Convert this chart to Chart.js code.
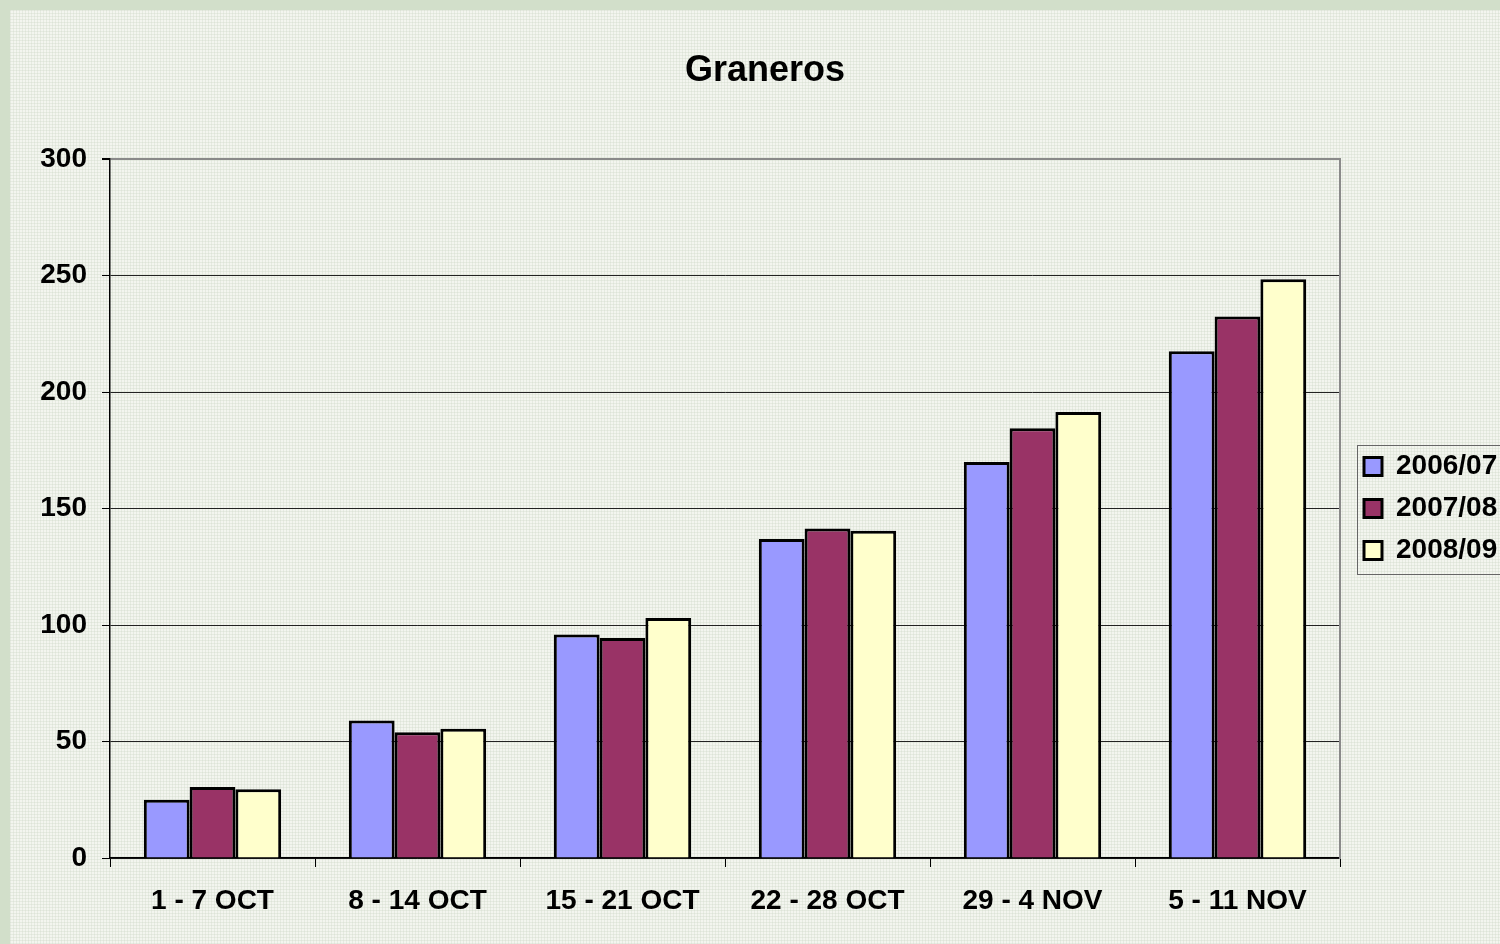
<!DOCTYPE html>
<html>
<head>
<meta charset="utf-8">
<script src="https://cdn.jsdelivr.net/npm/chart.js@4"></script>
<style>
  html, body { margin: 0; padding: 0; }
  body {
    width: 1500px; height: 944px; overflow: hidden; position: relative;
    background: #d2dfca;
  }
  #panel {
    position: absolute; left: 10px; top: 10px; width: 1490px; height: 934px;
    background-color: #f3f5ef;
    background-image:
      repeating-linear-gradient(0deg, rgba(205,215,198,0.35) 0 1px, transparent 1px 3px),
      repeating-linear-gradient(90deg, rgba(205,215,198,0.35) 0 1px, transparent 1px 3px);
  }
  #wrap { position: absolute; left: 0; top: 0; width: 1500px; height: 944px; }
</style>
</head>
<body>
<div id="panel"></div>
<div id="wrap"><canvas id="granerosChart" width="1500" height="944"></canvas></div>
<script>
const categories = ['1 - 7 OCT', '8 - 14 OCT', '15 - 21 OCT', '22 - 28 OCT', '29 - 4 NOV', '5 - 11 NOV'];
const seasons = ['2006/07', '2007/08', '2008/09'];
const values0607 = [25, 59, 96, 137, 170, 217.5];
const values0708 = [30.5, 54, 94.5, 141.5, 184.5, 232.5];
const values0809 = [29.5, 55.5, 103, 140.5, 191.5, 248.5];
const yTicks = [0, 50, 100, 150, 200, 250, 300];

const fontFamily = 'Arial, "Liberation Sans", sans-serif';

// box round the legend (Chart.js draws none)
const legendFrame = {
    id: 'legendFrame',
    afterDraw(chart) {
        const lg = chart.legend;
        if (!lg || !lg.legendHitBoxes || !lg.legendHitBoxes.length) return;
        const first = lg.legendHitBoxes[0];
        const last = lg.legendHitBoxes[lg.legendHitBoxes.length - 1];
        const ctx = chart.ctx;
        const top = Math.round(first.top - 8) + 0.5;
        const bottom = Math.round(last.top + last.height + 9) + 0.5;
        const left = 1357.5;
        ctx.save();
        ctx.strokeStyle = '#666';
        ctx.lineWidth = 1;
        ctx.strokeRect(left, top, 1510 - left, bottom - top);
        ctx.restore();
    }
};

const ctx = document.getElementById('granerosChart').getContext('2d');
new Chart(ctx, {
    type: 'bar',
    data: {
        labels: categories,
        datasets: [
            { label: seasons[0], data: values0607, backgroundColor: '#9999FF', borderColor: '#000', borderWidth: 3, yAxisID: 'y' },
            { label: seasons[1], data: values0708, backgroundColor: '#993366', borderColor: '#000', borderWidth: 3, yAxisID: 'y' },
            { label: seasons[2], data: values0809, backgroundColor: '#FFFFCC', borderColor: '#000', borderWidth: 3, yAxisID: 'y' }
        ]
    },
    options: {
        responsive: false,
        animation: false,
        layout: { padding: { left: 30, right: 0, top: 0, bottom: 0 } },
        datasets: { bar: { categoryPercentage: 0.67, barPercentage: 1.0, borderSkipped: 'start' } },
        plugins: {
            title: {
                display: true,
                text: 'Graneros',
                color: '#000',
                font: { family: fontFamily, size: 36, weight: 'bold' },
                padding: { top: 49, bottom: 67 }
            },
            legend: {
                position: 'right',
                fullSize: false,
                maxWidth: 150,
                labels: {
                    color: '#000',
                    font: { family: fontFamily, size: 28, weight: 'bold' },
                    boxWidth: 18,
                    boxHeight: 18,
                    padding: 14
                }
            },
            tooltip: { enabled: false }
        },
        scales: {
            x: {
                afterFit: s => { s.height = 86; },
                grid: { drawOnChartArea: false, drawTicks: true, tickLength: 9, tickColor: '#000', offset: true },
                border: { display: true, color: '#000', width: 1.5 },
                ticks: { color: '#000', font: { family: fontFamily, size: 28, weight: 'bold' }, padding: 17, maxRotation: 0 }
            },
            y: {
                min: 0,
                max: 300,
                afterFit: s => { s.width = 80; },
                afterBuildTicks: s => { s.ticks = yTicks.map(v => ({ value: v })); },
                grid: {
                    color: c => (c.tick && c.tick.value === 300) ? '#8a8a8a' : '#222',
                    lineWidth: c => (c.tick && c.tick.value === 300) ? 2 : 1,
                    tickColor: '#000',
                    tickLength: 8
                },
                border: { display: true, color: '#000', width: 1.5 },
                ticks: { color: '#000', font: { family: fontFamily, size: 28, weight: 'bold' }, padding: 15 }
            },
            edge: {
                type: 'linear',
                position: 'right',
                afterFit: s => { s.width = 10; },
                grid: { display: false },
                ticks: { display: false },
                border: { display: true, color: '#8a8a8a', width: 2 }
            }
        }
    },
    plugins: [legendFrame]
});
</script>
</body>
</html>
